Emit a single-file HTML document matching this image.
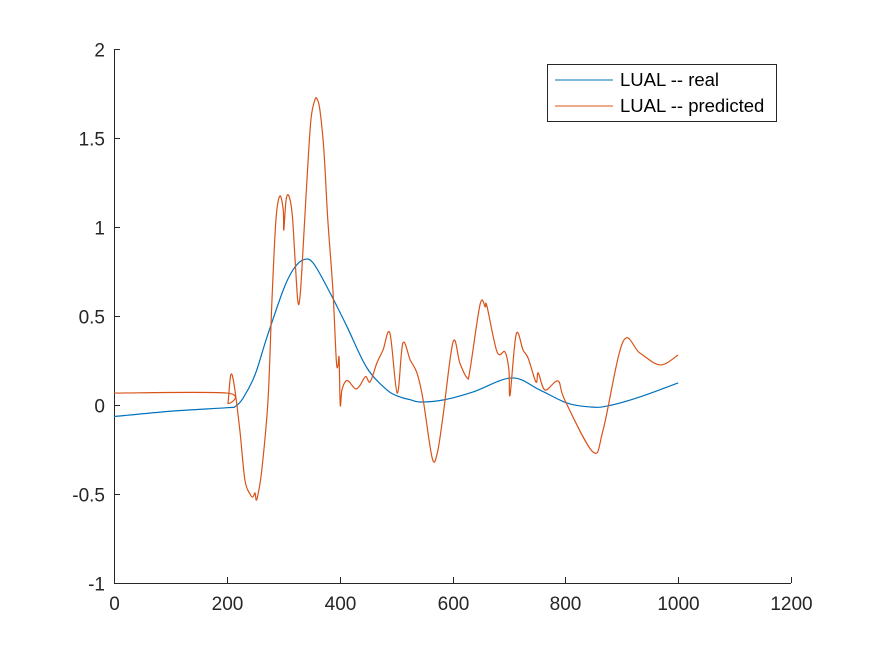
<!DOCTYPE html>
<html><head><meta charset="utf-8"><style>
html,body{margin:0;padding:0;background:#fff;}
svg{display:block;font-family:"Liberation Sans",Arial,sans-serif;}
</style></head><body>
<svg id="chart" width="875" height="656" viewBox="0 0 875 656">
<rect width="875" height="656" fill="#fff"/>
<g id="axes"></g>
<g id="series"></g>
<g>
<rect x="547.5" y="64.5" width="229" height="57" fill="#fff" stroke="#262626" stroke-width="1"/>
<line x1="555" y1="80" x2="613" y2="80" stroke="#0072BD" stroke-width="1"/>
<text x="620" y="86" font-size="18.5" fill="#000">LUAL -- real</text>
<line x1="555" y1="106" x2="613" y2="106" stroke="#D95319" stroke-width="1"/>
<text x="620" y="112" font-size="18.5" fill="#000">LUAL -- predicted</text>
</g>
</svg>
<script>
const xTicks=[0,200,400,600,800,1000,1200];
const yTicks=[-1,-0.5,0,0.5,1,1.5,2];
const yTickLabels=["-1","-0.5","0","0.5","1","1.5","2"];
const realX=[0,100,200,215,229,250,271,300,317,335,353,383,413,448,484,507,525,542,583,636,705,755,803,844,874,932,1000];
const realY=[-0.065,-0.035,-0.015,-0.008,0.04,0.17,0.38,0.646,0.758,0.815,0.798,0.63,0.44,0.21,0.084,0.045,0.03,0.017,0.028,0.073,0.152,0.084,0.011,-0.011,-0.006,0.045,0.124];
const predX=[0,200,202,207,213,223,232,241,246,250,252,255,262,273,280,287,294,300,301,305,310,316,321,326,330,335,342,349,356,360,365,372,379,388,394,397,399,401,404,411,417,422,429,436,446,454,466,477,489,502,512,525,537,548,564,573,583,601,613,626,631,649,658,661,679,693,700,702,713,725,734,748,752,764,787,799,849,867,902,932,968,1000];
const predY=[0.067,0.067,0.011,0.169,0.112,-0.14,-0.421,-0.5,-0.517,-0.494,-0.534,-0.506,-0.365,0.028,0.59,1.039,1.174,1.096,0.983,1.152,1.174,1.067,0.815,0.579,0.618,0.871,1.264,1.601,1.713,1.719,1.657,1.433,1.039,0.646,0.253,0.219,0.264,0.0,0.084,0.135,0.13,0.11,0.09,0.11,0.16,0.13,0.236,0.31,0.404,0.067,0.348,0.253,0.18,0.028,-0.298,-0.27,-0.067,0.354,0.236,0.152,0.197,0.567,0.551,0.556,0.298,0.298,0.197,0.056,0.399,0.309,0.264,0.129,0.18,0.084,0.135,0.028,-0.264,-0.14,0.354,0.292,0.225,0.281];

const X0=114,X1=791,Y0=583,Y1=49;
const xMin=0,xMax=1200,yMin=-1,yMax=2;
function sx(v){return X0+(v-xMin)/(xMax-xMin)*(X1-X0);}
function sy(v){return Y0-(v-yMin)/(yMax-yMin)*(Y0-Y1);}
const NS="http://www.w3.org/2000/svg";
const axes=document.getElementById('axes');
const series=document.getElementById('series');
function mk(tag,attrs,parent){const e=document.createElementNS(NS,tag);for(const k in attrs)e.setAttribute(k,attrs[k]);parent.appendChild(e);return e;}

let e=mk('line',{x1:X0+0.5,y1:Y0+0.5,x2:X1,y2:Y0+0.5,stroke:'#262626','stroke-width':1},axes);


e=mk('line',{x1:X0+0.5,y1:Y0+0.5,x2:X0+0.5,y2:Y1,stroke:'#262626','stroke-width':1},axes);



xTicks.forEach(t=>{
  const x=Math.round(sx(t))+0.5;
  const tk=mk('line',{x1:x,y1:Y0,x2:x,y2:Y0-6,stroke:'#262626'},axes);
  
  
  const tx=mk('text',{x:x,y:Y0+27,'text-anchor':'middle','font-size':19,fill:'#262626'},axes);
  tx.textContent=String(t);
  
  
});
yTicks.forEach((t,i)=>{
  const y=Math.round(sy(t))+0.5;
  const tk=mk('line',{x1:X0,y1:y,x2:X0+6,y2:y,stroke:'#262626'},axes);
  
  
  const tx=mk('text',{x:X0-9,y:y+7,'text-anchor':'end','font-size':19,fill:'#262626'},axes);
  tx.textContent=yTickLabels[i];
  
  
});

function smoothPath(xs,ys){
  const p=xs.map((x,i)=>[sx(x),sy(ys[i])]);
  let d='M'+p[0][0].toFixed(2)+','+p[0][1].toFixed(2);
  for(let i=0;i<p.length-1;i++){
    const p0=p[Math.max(i-1,0)],p1=p[i],p2=p[i+1],p3=p[Math.min(i+2,p.length-1)];
    const c1=[p1[0]+(p2[0]-p0[0])/6,p1[1]+(p2[1]-p0[1])/6];
    const c2=[p2[0]-(p3[0]-p1[0])/6,p2[1]-(p3[1]-p1[1])/6];
    d+=' C'+c1[0].toFixed(2)+','+c1[1].toFixed(2)+' '+c2[0].toFixed(2)+','+c2[1].toFixed(2)+' '+p2[0].toFixed(2)+','+p2[1].toFixed(2);
  }
  return d;
}
const pr=mk('path',{d:smoothPath(realX,realY),fill:'none',stroke:'#0072BD','stroke-width':1.2},series);


const pp=mk('path',{d:smoothPath(predX,predY),fill:'none',stroke:'#D95319','stroke-width':1.2},series);


</script>
</body></html>
